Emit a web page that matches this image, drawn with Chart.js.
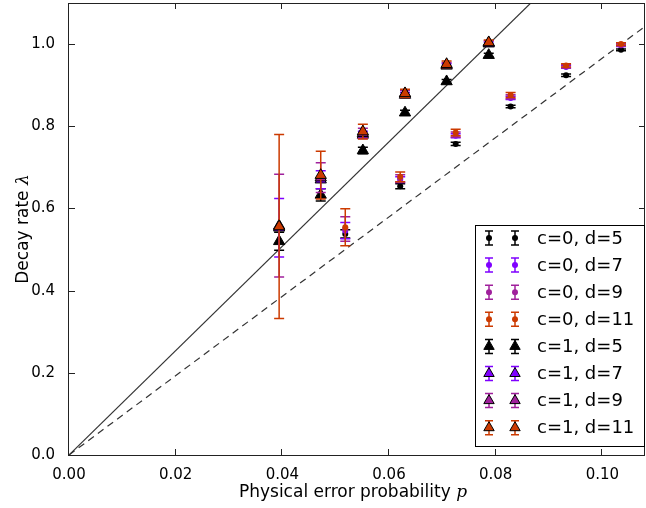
<!DOCTYPE html>
<html>
<head>
<meta charset="utf-8">
<script src="https://cdn.jsdelivr.net/npm/chart.js@4.4.1/dist/chart.umd.min.js"></script>
<style>
  html, body { margin: 0; padding: 0; background: #fff; }
  canvas { display: block; }
</style>
</head>
<body>
<canvas id="decayChart" width="646" height="508"></canvas>
<script>
// error probabilities for each code family
const pC0 = [0.0518, 0.0621, 0.0725, 0.0828, 0.0932, 0.1035];
const pC1 = [0.0394, 0.0472, 0.0551, 0.0630, 0.0708, 0.0787];

// decay rates and their error bars, c=0
const c0d5 = [0.538, 0.654, 0.757, 0.848, 0.924, 0.986];
const c0d7 = [0.546, 0.670, 0.777, 0.869, 0.944, 0.997];
const c0d9 = [0.550, 0.673, 0.780, 0.872, 0.946, 0.998];
const c0d11 = [0.554, 0.677, 0.785, 0.876, 0.948, 1.000];
const c0d5Err = [0.010, 0.006, 0.004, 0.003, 0.003, 0.002];
const c0d7Err = [0.020, 0.007, 0.005, 0.004, 0.003, 0.003];
const c0d9Err = [0.030, 0.009, 0.006, 0.005, 0.004, 0.003];
const c0d11Err = [0.045, 0.012, 0.008, 0.006, 0.004, 0.003];

// decay rates and their error bars, c=1
const c1d5 = [0.520, 0.633, 0.741, 0.833, 0.909, 0.973];
const c1d7 = [0.553, 0.670, 0.779, 0.876, 0.947, 1.001];
const c1d9 = [0.558, 0.675, 0.783, 0.879, 0.949, 1.003];
const c1d11 = [0.556, 0.681, 0.787, 0.880, 0.951, 1.004];
const c1d5Err = [0.022, 0.015, 0.008, 0.006, 0.005, 0.005];
const c1d7Err = [0.071, 0.022, 0.009, 0.006, 0.005, 0.004];
const c1d9Err = [0.125, 0.036, 0.012, 0.008, 0.006, 0.005];
const c1d11Err = [0.224, 0.058, 0.018, 0.010, 0.008, 0.006];

// reference lines lambda = p / p_max
const solidLineP = [0, 0.108];
const solidLineLambda = [0, 1.372];
const dashedLineP = [0, 0.108];
const dashedLineLambda = [0, 1.043];

const xTicks = [0, 0.02, 0.04, 0.06, 0.08, 0.10];
const yTicks = [0, 0.2, 0.4, 0.6, 0.8, 1.0];

const colD5 = '#000000';
const colD7 = '#7f00ff';
const colD9 = '#a0209c';
const colD11 = '#cc3a00';

Chart.defaults.font.family = 'DejaVu Sans';
Chart.defaults.color = '#000';

function pts(xs, ys) {
    return xs.map((x, i) => ({ x: x, y: ys[i] }));
}

function series(label, xs, ys, errs, color, tri) {
    return {
        label: label,
        data: pts(xs, ys),
        errors: errs,
        errColor: color,
        showLine: false,
        pointStyle: tri ? 'triangle' : 'circle',
        pointRadius: tri ? 6.5 : 3,
        pointHoverRadius: tri ? 6.5 : 3,
        backgroundColor: color,
        borderColor: tri ? '#000' : color,
        pointBorderWidth: tri ? 1 : 0,
        tri: tri
    };
}

const markerSets = [
    series('c=0, d=5', pC0, c0d5, c0d5Err, colD5, false),
    series('c=0, d=7', pC0, c0d7, c0d7Err, colD7, false),
    series('c=0, d=9', pC0, c0d9, c0d9Err, colD9, false),
    series('c=0, d=11', pC0, c0d11, c0d11Err, colD11, false),
    series('c=1, d=5', pC1, c1d5, c1d5Err, colD5, true),
    series('c=1, d=7', pC1, c1d7, c1d7Err, colD7, true),
    series('c=1, d=9', pC1, c1d9, c1d9Err, colD9, true),
    series('c=1, d=11', pC1, c1d11, c1d11Err, colD11, true)
];

const lineSets = [
    {
        label: 'solid', data: pts(solidLineP, solidLineLambda), showLine: true,
        borderColor: '#333', borderWidth: 1.2, pointRadius: 0, pointHoverRadius: 0
    },
    {
        label: 'dashed', data: pts(dashedLineP, dashedLineLambda), showLine: true,
        borderColor: '#333', borderWidth: 1.2, borderDash: [7, 5], pointRadius: 0, pointHoverRadius: 0
    }
];

// later entries go on top
const allSets = lineSets.concat(markerSets);
allSets.forEach((ds, i) => { ds.order = -i; });

// vertical error bars with caps, drawn just under each series' markers
const errorBars = {
    id: 'errorBars',
    beforeDatasetDraw(chart, args) {
        const ds = chart.data.datasets[args.index];
        if (!ds.errors) return;
        const { ctx, chartArea: a } = chart;
        const ys = chart.scales.y;
        ctx.save();
        ctx.beginPath();
        ctx.rect(a.left, a.top, a.width, a.height);
        ctx.clip();
        ctx.strokeStyle = ds.errColor;
        ctx.lineWidth = 1.5;
        args.meta.data.forEach((el, j) => {
            const v = ds.data[j].y;
            const top = ys.getPixelForValue(v + ds.errors[j]);
            const bot = ys.getPixelForValue(v - ds.errors[j]);
            ctx.beginPath();
            ctx.moveTo(el.x, top);
            ctx.lineTo(el.x, bot);
            ctx.moveTo(el.x - 5, top);
            ctx.lineTo(el.x + 5, top);
            ctx.moveTo(el.x - 5, bot);
            ctx.lineTo(el.x + 5, bot);
            ctx.stroke();
        });
        ctx.restore();
    }
};

// box around the axes with inward ticks on every side
const frame = {
    id: 'frame',
    afterDatasetsDraw(chart) {
        const { ctx, chartArea: a, scales } = chart;
        ctx.save();
        ctx.strokeStyle = '#222';
        ctx.lineWidth = 1;
        ctx.strokeRect(a.left - 0.5, a.top + 0.5, a.width, a.height);
        ctx.beginPath();
        xTicks.forEach(v => {
            const px = Math.round(scales.x.getPixelForValue(v)) - 0.5;
            ctx.moveTo(px, a.bottom); ctx.lineTo(px, a.bottom - 6);
            ctx.moveTo(px, a.top); ctx.lineTo(px, a.top + 6);
        });
        yTicks.forEach(v => {
            const py = Math.round(scales.y.getPixelForValue(v)) + 0.5;
            ctx.moveTo(a.left, py); ctx.lineTo(a.left + 6, py);
            ctx.moveTo(a.right, py); ctx.lineTo(a.right - 6, py);
        });
        ctx.stroke();
        ctx.restore();
    }
};

function legendMarker(ctx, x, y, ds) {
    ctx.strokeStyle = ds.errColor;
    ctx.lineWidth = 1.5;
    ctx.beginPath();
    ctx.moveTo(x, y - 7); ctx.lineTo(x, y + 7);
    ctx.moveTo(x - 4, y - 7); ctx.lineTo(x + 4, y - 7);
    ctx.moveTo(x - 4, y + 7); ctx.lineTo(x + 4, y + 7);
    ctx.stroke();
    ctx.fillStyle = ds.backgroundColor;
    ctx.strokeStyle = ds.borderColor;
    ctx.lineWidth = ds.pointBorderWidth || 0.01;
    Chart.helpers.drawPoint(ctx, {
        pointStyle: ds.pointStyle,
        radius: ds.tri ? 6 : 3,
        borderWidth: ds.pointBorderWidth
    }, x, y);
}

// legend box plus axis titles
const annotations = {
    id: 'annotations',
    afterDraw(chart) {
        const { ctx, chartArea: a } = chart;
        ctx.save();
        const bx = 475, by = 225, bw = 170, bh = 222;
        ctx.fillStyle = '#fff';
        ctx.fillRect(bx, by, bw, bh);
        ctx.strokeStyle = '#000';
        ctx.lineWidth = 1;
        ctx.strokeRect(bx + 0.5, by + 0.5, bw - 1, bh - 1);
        markerSets.forEach((ds, i) => {
            const y = 238 + i * 27.1;
            legendMarker(ctx, 489, y, ds);
            legendMarker(ctx, 515, y, ds);
            ctx.fillStyle = '#000';
            ctx.font = '18px "DejaVu Sans"';
            ctx.textAlign = 'left';
            ctx.textBaseline = 'middle';
            ctx.fillText(ds.label, 537, y + 1);
        });

        // x title with italic p
        ctx.fillStyle = '#000';
        ctx.textBaseline = 'alphabetic';
        ctx.textAlign = 'left';
        const xMain = 'Physical error probability ';
        ctx.font = '17px "DejaVu Sans"';
        const w1 = ctx.measureText(xMain).width;
        ctx.font = 'italic 17px "DejaVu Serif"';
        const w2 = ctx.measureText('p').width;
        let sx = (a.left + a.right) / 2 - (w1 + w2) / 2 - 4;
        ctx.font = '17px "DejaVu Sans"';
        ctx.fillText(xMain, sx, 497);
        ctx.font = 'italic 17px "DejaVu Serif"';
        ctx.fillText('p', sx + w1, 497);

        // y title, rotated, with italic lambda
        ctx.translate(28, 229);
        ctx.rotate(-Math.PI / 2);
        const yMain = 'Decay rate ';
        ctx.font = '17px "DejaVu Sans"';
        const w3 = ctx.measureText(yMain).width;
        ctx.font = 'italic 17px "DejaVu Serif"';
        const w4 = ctx.measureText('λ').width;
        sx = -(w3 + w4) / 2;
        ctx.font = '17px "DejaVu Sans"';
        ctx.fillText(yMain, sx, 0);
        ctx.font = 'italic 17px "DejaVu Serif"';
        ctx.fillText('λ', sx + w3, 0);
        ctx.restore();
    }
};

new Chart(document.getElementById('decayChart'), {
    type: 'scatter',
    data: { datasets: allSets },
    options: {
        responsive: false,
        animation: false,
        devicePixelRatio: 1,
        layout: { autoPadding: false, padding: { left: 0, right: 1, top: 3, bottom: 0 } },
        plugins: { legend: { display: false }, tooltip: { enabled: false } },
        scales: {
            x: {
                type: 'linear', min: 0, max: 0.108,
                grid: { display: false },
                border: { display: false },
                afterBuildTicks: s => { s.ticks = xTicks.map(v => ({ value: v })); },
                afterFit: s => { s.height = 53; s.paddingLeft = 0; s.paddingRight = 0; },
                ticks: {
                    padding: 3, maxRotation: 0,
                    font: { size: 15 },
                    callback: v => v.toFixed(2)
                }
            },
            y: {
                type: 'linear', min: 0, max: 1.1,
                grid: { display: false },
                border: { display: false },
                afterBuildTicks: s => { s.ticks = yTicks.map(v => ({ value: v })); },
                afterFit: s => { s.width = 69; s.paddingTop = 0; s.paddingBottom = 0; },
                ticks: {
                    padding: 6,
                    font: { size: 15 },
                    callback: v => v.toFixed(1)
                }
            }
        }
    },
    plugins: [errorBars, frame, annotations]
});
</script>
</body>
</html>
